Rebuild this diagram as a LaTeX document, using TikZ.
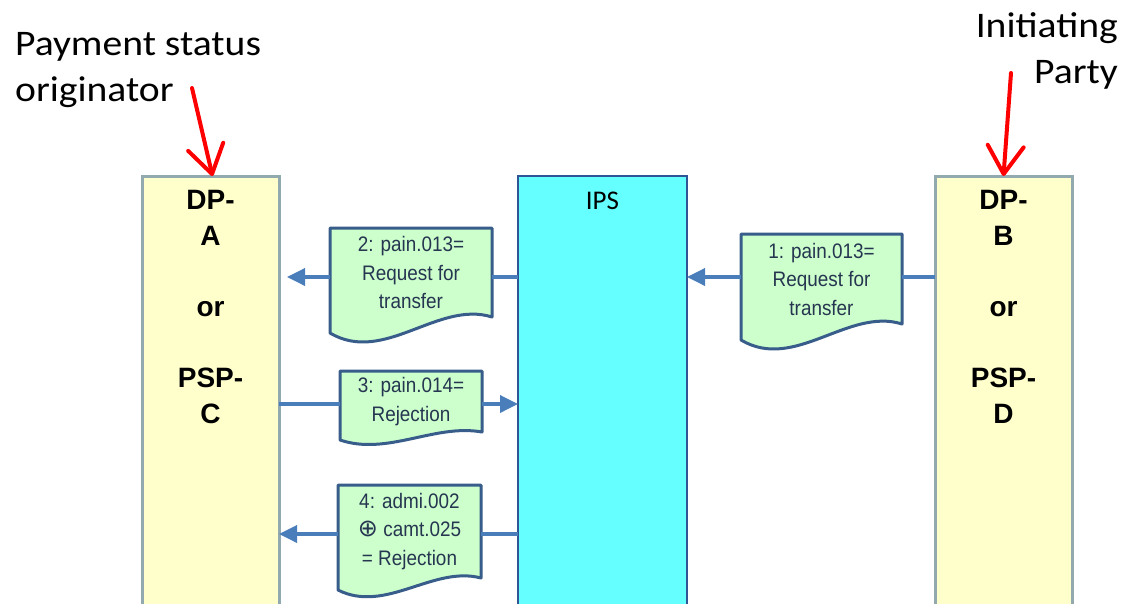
\documentclass[tikz,border=0pt]{standalone}
\usepackage{fontspec}
\usetikzlibrary{calc,arrows.meta,backgrounds}
\newfontfamily\labf{Carlito}
\newfontfamily\labwf[FakeStretch=1.1]{Carlito}
\newfontfamily\docf{Liberation Sans}
\newfontfamily\docnf[FakeStretch=0.9]{Liberation Sans}
\newfontfamily\symf{DejaVu Sans}
\definecolor{boxfill}{HTML}{FFFFCC}
\definecolor{boxedge}{HTML}{92AAAF}
\definecolor{ipsfill}{HTML}{66FFFF}
\definecolor{ipsedge}{HTML}{2F5597}
\definecolor{docfill}{HTML}{CCFFCC}
\definecolor{docedge}{HTML}{385D8A}
\definecolor{doctext}{HTML}{263550}
\definecolor{flow}{HTML}{4A7EBB}
\definecolor{redarr}{HTML}{FF0000}
\tikzset{
  partybox/.style={draw=boxedge, fill=boxfill, line width=3pt, inner sep=0pt, outer sep=0pt, anchor=north west},
  ipsbox/.style={draw=ipsedge, fill=ipsfill, line width=2.5pt, inner sep=0pt, outer sep=0pt, anchor=north west},
  partytext/.style={font={\docf\bfseries\fontsize{28}{35.7}\selectfont}, align=center, inner sep=0pt, anchor=north},
  docnode/.style={inner sep=0pt, outer sep=0pt, align=center, text=doctext, font={\docnf\fontsize{21}{28.5}\selectfont}},
  docshape/.style={draw=docedge, fill=docfill, line width=3pt, line join=round},
  flowline/.style={draw=flow, line width=3.5pt},
  flowarrow/.style={draw=flow, line width=3.5pt, -{Triangle[length=18pt,width=17pt]}},
  redarrow/.style={draw=redarr, line width=4pt, line cap=round, -{Straight Barb[length=28pt,width=36pt,round]}},
  labeltext/.style={font={\labwf\fontsize{36}{46}\selectfont}, inner sep=0pt}
}
\newcommand\docoutline[2]{%
  \path[docshape] (#1.north west) -- (#1.north east) -- (#1.south east)
    .. controls ($(#1.south east)!1/3!(#1.south west)+(0,-#2*1.06)$) and ($(#1.south east)!2/3!(#1.south west)+(0,#2*3)$) ..
    ($(#1.south west)+(0,#2)$) -- cycle;}
\begin{document}
\begin{tikzpicture}[x=1pt,y=-1pt]
\useasboundingbox (0,0) rectangle (1122,603);
\clip (0,0) rectangle (1122,603);
% columns
\node[partybox, minimum width=137pt, minimum height=460pt] (A) at (142,176) {};
\node[ipsbox, minimum width=169pt, minimum height=460pt] (IPS) at (518,176) {};
\node[partybox, minimum width=137pt, minimum height=460pt] (B) at (935,176) {};
\node[partytext] (Atext) at (210.5,190) {DP-\\A\\[35.7pt]or\\[35.7pt]PSP-\\C};
\node[partytext] (Btext) at (1003.5,190) {DP-\\B\\[35.7pt]or\\[35.7pt]PSP-\\D};
\node[font={\labf\fontsize{27}{30}\selectfont}, inner sep=0pt] (ipstext) at (602.5,201) {IPS};
% documents
\node[docnode, minimum width=161pt, minimum height=90pt] (d1) at (821.5,279) {1: pain.013=\\Request for\\transfer};
\node[docnode, minimum width=162pt, minimum height=89pt] (d2) at (411,272.5) {2: pain.013=\\Request for\\transfer};
\node[docnode, minimum width=142pt, minimum height=61pt] (d3) at (411,401.5) {3: pain.014=\\Rejection};
\node[docnode, minimum width=143pt, minimum height=93pt] (d4) at (409.5,531.5) {4: admi.002\\{\symf\fontsize{24}{28.5}\selectfont ⊕} camt.025\\= Rejection};
\begin{scope}[on background layer]
\docoutline{d1}{16}
\docoutline{d2}{16}
\docoutline{d3}{8}
\docoutline{d4}{12}
\end{scope}
% row levels
\coordinate (r1) at ([yshift=2pt]d1.center);
\coordinate (r2) at ([yshift=-4.5pt]d2.center);
\coordinate (r3) at ([yshift=-2.5pt]d3.center);
\coordinate (r4) at ([yshift=-2.5pt]d4.center);
% flows
\draw[flowline] (r1 -| B.west) -- (r1 -| d1.east);
\draw[flowarrow] (r1 -| d1.west) -- (r1 -| IPS.east);
\draw[flowline] (r2 -| IPS.west) -- (r2 -| d2.east);
\draw[flowarrow, shorten >=8pt] (r2 -| d2.west) -- (r2 -| A.east);
\draw[flowline] (r3 -| A.east) -- (r3 -| d3.west);
\draw[flowarrow] (r3 -| d3.east) -- (r3 -| IPS.west);
\draw[flowline] (r4 -| IPS.west) -- (r4 -| d4.east);
\draw[flowarrow] (r4 -| d4.west) -- (r4 -| A.east);
% labels
\node[labeltext, align=left, anchor=north west] (pso) at (15,32) {Payment status\\originator};
\node[labeltext, align=right, anchor=north east] (ip) at (1118,12) {Initiating\\Party};
\coordinate (psostart) at (192,88);
\coordinate (ipstart) at (1011,73);
\draw[redarrow] (psostart) -- ([xshift=2pt]A.north);
\draw[redarrow] (ipstart) -- (B.north);
\end{tikzpicture}
\end{document}
